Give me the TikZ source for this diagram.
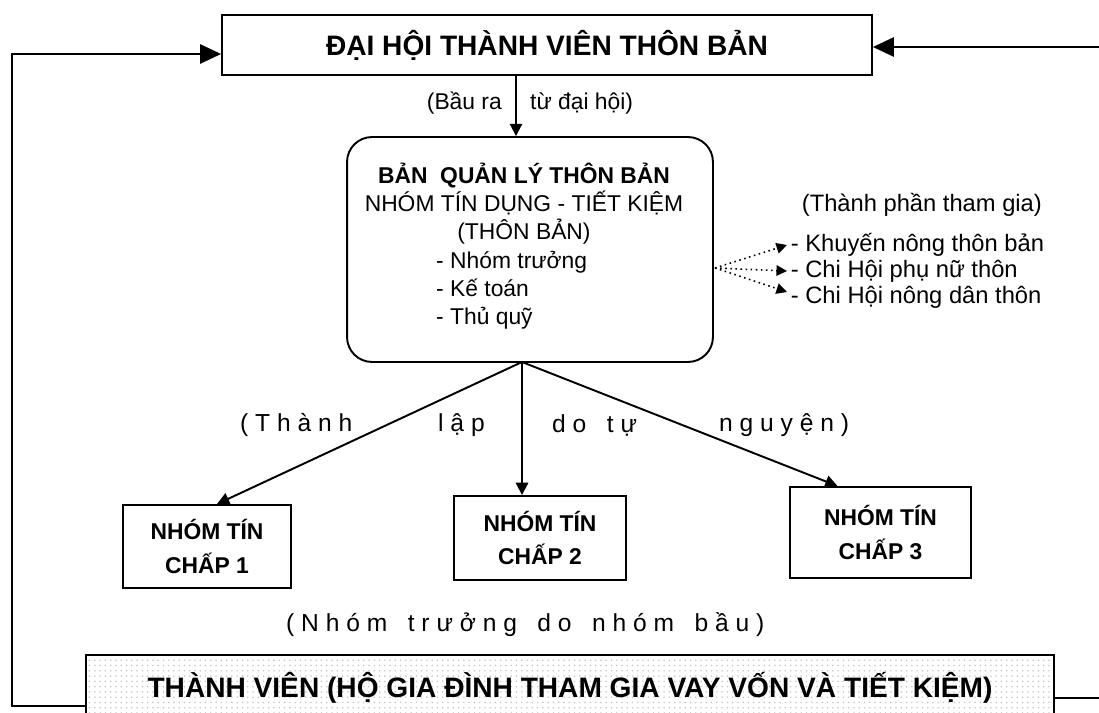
\documentclass[tikz,border=0pt]{standalone}
\usepackage{fontspec}
\setmainfont{Liberation Sans}
\usetikzlibrary{arrows.meta,patterns}

\begin{document}
\begin{tikzpicture}[x=0.02cm,y=-0.02cm,
    box/.style={draw,line width=1.1pt,align=center,inner sep=0pt},
    big/.style={font=\fontsize{16}{19}\selectfont\bfseries},
    txt/.style={font=\fontsize{13}{16}\selectfont},
    grp/.style={box,font=\fontsize{13}{19}\selectfont\bfseries},
    list/.style={font=\fontsize{13.5}{16}\selectfont,anchor=west,inner sep=2pt},
    spaced/.style={font=\fontsize{14}{17}\selectfont,anchor=west},
    conn/.style={line width=1.1pt,-{Triangle[length=7pt,width=7pt]}},
    loop/.style={line width=1.1pt,-{Triangle[length=12pt,width=11pt]}},
    hint/.style={dotted,line width=0.9pt,-{Triangle[length=6pt,width=6pt]}}]
    \clip (0,0) rectangle (1099,713);

    % Kaestchen
    \node[box,big,minimum width=13cm,minimum height=1.2cm] (congress) at (547,45) {ĐẠI HỘI THÀNH VIÊN THÔN BẢN};
    \node[box,rounded corners=0.5cm,minimum width=7.32cm,minimum height=4.5cm] (board) at (530,249.5) {};
    \node[txt,align=center] (boardhead) at (524,204) {\textbf{BẢN\ \ QUẢN LÝ THÔN BẢN}\\NHÓM TÍN DỤNG - TIẾT KIỆM\\(THÔN BẢN)};
    \node[txt,align=left,anchor=west] (staff) at (430,290) {- Nhóm trưởng\\- Kế toán\\- Thủ quỹ};
    \node[grp,minimum width=3.36cm,minimum height=1.66cm] (grp1) at (207,546.5) {NHÓM TÍN\\CHẤP 1};
    \node[grp,minimum width=3.44cm,minimum height=1.68cm] (grp2) at (540,538) {NHÓM TÍN\\CHẤP 2};
    \node[grp,minimum width=3.62cm,minimum height=1.82cm] (grp3) at (880.5,532.5) {NHÓM TÍN\\CHẤP 3};
    \node[box,big,pattern=dots,pattern color=black!22,minimum width=19.36cm,minimum height=1.32cm] (members) at (570,688) {};
    \node[big] (memberstxt) at (570,688) {THÀNH VIÊN (HỘ GIA ĐÌNH THAM GIA VAY VỐN VÀ TIẾT KIỆM)};

    % Beschriftungen
    \node[txt,anchor=east] (votea) at (508,103) {(Bầu ra};
    \node[txt,anchor=west] (voteb) at (524,103) {từ đại hội)};
    \node[list] (roles) at (798,205) {(Thành phần tham gia)};
    \node[list] (ext) at (787,245) {- Khuyến nông thôn bản};
    \node[list] (women) at (787,271) {- Chi Hội phụ nữ thôn};
    \node[list] (farmers) at (787,297) {- Chi Hội nông dân thôn};
    \node[spaced] (founda) at (234,425) {( T h à n h};
    \node[spaced] (foundb) at (432,425) {l ậ p};
    \node[spaced] (foundc) at (546,425) {d o\ \ \ t ự};
    \node[spaced] (foundd) at (713,425) {n g u y ệ n )};
    \node[spaced] (leader) at (280,625) {( N h ó m\ \ \ t r ư ở n g\ \ \ d o\ \ \ n h ó m\ \ \ b ầ u )};

    % Punkte
    \coordinate (vote) at (516,0);
    \coordinate (fork) at (522,362);
    \coordinate (fan) at (715,268);
    \coordinate (cornerBL) at (12,706);
    \coordinate (cornerTL) at (12,54);
    \coordinate (cornerBR) at (1110,698);
    \coordinate (cornerTR) at (1110,47);

    % Pfeile
    \draw[conn] (congress.south -| vote) -- (board.north -| vote);
    \draw[conn] (fork) -- ([xshift=0.2cm]grp1.north);
    \draw[conn] (fork) -- (grp2.north -| fork);
    \draw[conn] (fork) -- ([xshift=-0.86cm]grp3.north);
    \draw[hint] (fan) -- (ext.west);
    \draw[hint] (fan) -- (women.west);
    \draw[hint] (fan) -- ([yshift=0.1cm]farmers.west);
    \draw[loop] (members.west |- cornerBL) -- (cornerBL) -- (cornerTL) -- (congress.west |- cornerTL);
    \draw[loop] (members.east |- cornerBR) -- (cornerBR) -- (cornerTR) -- (congress.east |- cornerTR);
\end{tikzpicture}
\end{document}
